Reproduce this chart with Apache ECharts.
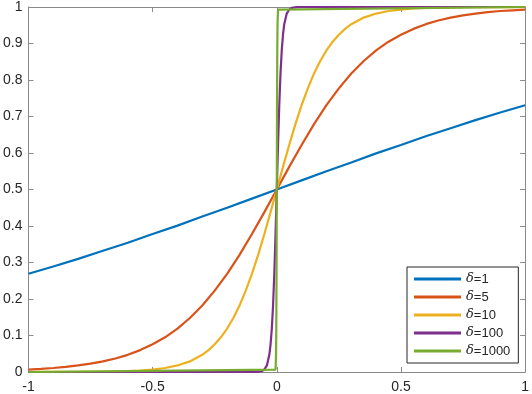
<!DOCTYPE html>
<html>
<head>
<meta charset="utf-8">
<script src="https://cdn.jsdelivr.net/npm/echarts@6/dist/echarts.min.js"></script>
<style>
  html, body { margin: 0; padding: 0; background: #fff; }
  #chart { width: 532px; height: 394px; }
</style>
</head>
<body>
<div id="chart"></div>
<script>
// values
var xTicks = [-1, -0.5, 0, 0.5, 1]
var yTicks = [0, 0.1, 0.2, 0.3, 0.4, 0.5, 0.6, 0.7, 0.8, 0.9, 1]

var x1 = [-1, -0.9, -0.8, -0.7, -0.6, -0.5, -0.4, -0.3, -0.2, -0.1, 0,
          0.1, 0.2, 0.3, 0.4, 0.5, 0.6, 0.7, 0.8, 0.9, 1]
var y1 = [0.269, 0.289, 0.310, 0.332, 0.354, 0.378, 0.401, 0.426, 0.450, 0.475, 0.5,
          0.525, 0.550, 0.574, 0.599, 0.622, 0.646, 0.668, 0.690, 0.711, 0.731]

var x5 = [-1, -0.95, -0.9, -0.85, -0.8, -0.75, -0.7, -0.65, -0.6, -0.55, -0.5,
          -0.45, -0.4, -0.35, -0.3, -0.25, -0.2, -0.15, -0.1, -0.05, 0,
          0.05, 0.1, 0.15, 0.2, 0.25, 0.3, 0.35, 0.4, 0.45, 0.5,
          0.55, 0.6, 0.65, 0.7, 0.75, 0.8, 0.85, 0.9, 0.95, 1]
var y5 = [0.0067, 0.0086, 0.011, 0.014, 0.018, 0.023, 0.029, 0.037, 0.047, 0.060, 0.076,
          0.095, 0.119, 0.148, 0.182, 0.223, 0.269, 0.321, 0.378, 0.438, 0.5,
          0.562, 0.622, 0.679, 0.731, 0.777, 0.818, 0.852, 0.881, 0.905, 0.924,
          0.940, 0.953, 0.963, 0.971, 0.977, 0.982, 0.986, 0.989, 0.991, 0.993]

var x10 = [-1, -0.95, -0.9, -0.85, -0.8, -0.75, -0.7, -0.65, -0.6, -0.55, -0.5,
           -0.45, -0.4, -0.35, -0.3, -0.275, -0.25, -0.225, -0.2, -0.175, -0.15, -0.125,
           -0.1, -0.075, -0.05, -0.025, 0,
           0.025, 0.05, 0.075, 0.1, 0.125, 0.15, 0.175, 0.2, 0.225, 0.25, 0.275, 0.3,
           0.35, 0.4, 0.45, 0.5, 0.55, 0.6, 0.65, 0.7, 0.75, 0.8, 0.85, 0.9, 0.95, 1]
var y10 = [0.0000, 0.0001, 0.0001, 0.0002, 0.0003, 0.0006, 0.0009, 0.0015, 0.0025, 0.0041, 0.0067,
           0.011, 0.018, 0.029, 0.047, 0.060, 0.076, 0.095, 0.119, 0.148, 0.182, 0.223,
           0.269, 0.321, 0.378, 0.438, 0.5,
           0.562, 0.622, 0.679, 0.731, 0.777, 0.818, 0.852, 0.881, 0.905, 0.924, 0.940, 0.953,
           0.971, 0.982, 0.989, 0.993, 0.996, 0.9975, 0.9985, 0.9991, 0.9994, 0.9997, 0.9998, 0.9999, 0.9999, 1]

var x100 = [-1, -0.1, -0.08, -0.06, -0.05, -0.04, -0.03, -0.025, -0.02, -0.015, -0.01, -0.005, 0,
            0.005, 0.01, 0.015, 0.02, 0.025, 0.03, 0.04, 0.05, 0.06, 0.08, 0.1, 1]
var y100 = [0, 0.0000, 0.0003, 0.0025, 0.0067, 0.018, 0.047, 0.076, 0.119, 0.182, 0.269, 0.378, 0.5,
            0.622, 0.731, 0.818, 0.881, 0.924, 0.953, 0.982, 0.993, 0.9975, 0.9997, 1, 1]

var x1000 = [-1, -0.005, -0.003, -0.002, -0.001, 0, 0.001, 0.002, 0.003, 0.005, 1]
var y1000 = [0, 0.0067, 0.047, 0.119, 0.269, 0.5, 0.731, 0.881, 0.953, 0.993, 1]

var names = ['δ=1', 'δ=5', 'δ=10', 'δ=100', 'δ=1000']
var colors = ['#0072BD', '#D95319', '#EDB120', '#7E2F8E', '#77AC30']

function pairs(xs, ys) {
    return xs.map(function (x, i) { return [x, ys[i]] })
}

var seriesData = [pairs(x1, y1), pairs(x5, y5), pairs(x10, y10), pairs(x100, y100), pairs(x1000, y1000)]

var axisGrey = '#8a8a8a'
var textColor = '#262626'
var fontFam = '"Liberation Sans", Arial, Helvetica, sans-serif'

var chart = echarts.init(document.getElementById('chart'))

function xAxisCfg(pos, showLabel) {
    return {
        type: 'value',
        position: pos,
        min: xTicks[0],
        max: xTicks[xTicks.length - 1],
        interval: 0.5,
        axisLine: { show: true, onZero: false, lineStyle: { color: axisGrey, width: 1 } },
        axisTick: { show: true, inside: true, length: 5, lineStyle: { color: axisGrey } },
        axisLabel: { show: showLabel, color: textColor, fontSize: 14, fontFamily: fontFam, margin: 8 },
        splitLine: { show: false }
    }
}

function yAxisCfg(pos, showLabel) {
    return {
        type: 'value',
        position: pos,
        min: yTicks[0],
        max: yTicks[yTicks.length - 1],
        interval: 0.1,
        axisLine: { show: true, onZero: false, lineStyle: { color: axisGrey, width: 1 } },
        axisTick: { show: true, inside: true, length: 5, lineStyle: { color: axisGrey } },
        axisLabel: { show: showLabel, color: textColor, fontSize: 14, fontFamily: fontFam, margin: 6 },
        splitLine: { show: false }
    }
}

var option = {
    animation: false,
    color: colors,
    grid: { left: 28, right: 4, top: 5, bottom: 21, containLabel: false },
    xAxis: [xAxisCfg('bottom', true), xAxisCfg('top', false)],
    yAxis: [yAxisCfg('left', true), yAxisCfg('right', false)],
    legend: {
        orient: 'vertical',
        left: 407,
        top: 267,
        padding: [5, 8, 5, 7],
        itemGap: 4,
        itemWidth: 47,
        itemHeight: 3,
        icon: 'rect',
        borderColor: textColor,
        borderWidth: 1,
        backgroundColor: '#fff',
        data: names,
        formatter: function (name) {
            return '{i|δ}' + name.slice(1)
        },
        textStyle: {
            color: textColor,
            fontSize: 13,
            fontFamily: fontFam,
            lineHeight: 14,
            rich: {
                i: { fontStyle: 'italic', fontSize: 13, fontFamily: '"DejaVu Serif", serif', color: textColor }
            }
        }
    },
    series: names.map(function (n, i) {
        return {
            type: 'line',
            name: n,
            data: seriesData[i],
            showSymbol: false,
            symbol: 'none',
            smooth: false,
            lineStyle: { width: 2.2, color: colors[i] },
            itemStyle: { color: colors[i] },
            z: 2 + i
        }
    })
}

chart.setOption(option)
</script>
</body>
</html>
